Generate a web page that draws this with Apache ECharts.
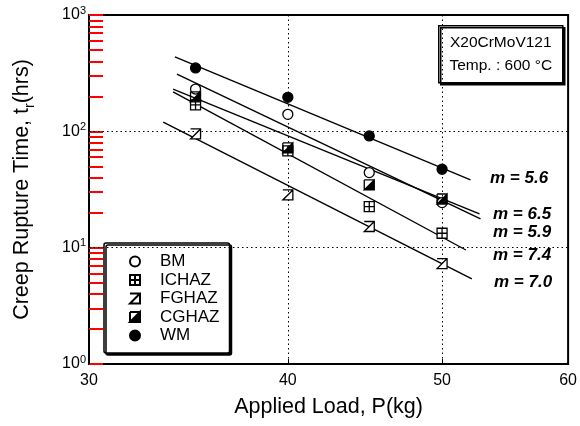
<!DOCTYPE html>
<html>
<head>
<meta charset="utf-8">
<script src="https://cdn.jsdelivr.net/npm/echarts@6/dist/echarts.min.js"></script>
<style>
  html, body { margin: 0; padding: 0; background: #fff; }
  #creep-rupture { width: 580px; height: 426px; }
</style>
</head>
<body>
<div id="creep-rupture"></div>
<script>
// applied load (kg) for every measured point
const loads = [35, 40, 45, 50]

// rupture time (hrs) per zone
const bmTimes = [231, 140, 44.2, 24.4]
const ichazTimes = [169, 68, 22.5, 13.3]
const fghazTimes = [95, 28.4, 15.2, 7.3]
const cghazTimes = [198, 72, 34.6, 26.2]
const wmTimes = [351, 196, 91.3, 47.2]

// fitted lines, two end points each [load, time]
const wmFit = [[33.97, 436], [52.1, 38.2]]
const bmFit = [[34.07, 311], [52.86, 17.7]]
const cghazFit = [[33.88, 231], [52.78, 19.5]]
const ichazFit = [[33.88, 218], [51.75, 9.55]]
const fghazFit = [[33.4, 120], [52.2, 5.4]]

const slopeLabels = ['m = 5.6', 'm = 6.5', 'm = 5.9', 'm = 7.4', 'm = 7.0']
const xTicks = [30, 40, 50, 60]
const yDecades = [1, 10, 100, 1000]
const yGridLines = [10, 100]
const yAllTicks = [1, 2, 3, 4, 5, 6, 7, 8, 9, 10, 20, 30, 40, 50, 60, 70, 80, 90,
  100, 200, 300, 400, 500, 600, 700, 800, 900, 1000]

const FONT = 'Liberation Sans, Arial, sans-serif'
const DOTTED = { color: '#000', type: [1.5, 3], width: 1 }

const toPoints = (times) => loads.map((p, i) => [p, times[i]])

const scatter = (name, times, symbol, fill) => ({
  name: name,
  type: 'scatter',
  z: 5,
  symbol: symbol,
  symbolSize: 10,
  itemStyle: { color: fill, borderColor: '#000', borderWidth: 1.3, opacity: 1 },
  data: toPoints(times)
})

const fitLine = (name, pts) => ({
  name: name,
  type: 'line',
  z: 3,
  silent: true,
  symbol: 'none',
  lineStyle: { color: '#000', width: 1.4 },
  data: pts
})

const chart = echarts.init(document.getElementById('creep-rupture'), null, { renderer: 'canvas' })

const slopeY = [178, 214, 232, 255, 282]
const slopeX = [490, 493, 493, 493, 494]

// horizontal dotted grid at 10 and 100 hrs
const wmSeries = fitLine('WM fit', wmFit)
wmSeries.markLine = {
  silent: true,
  symbol: 'none',
  label: { show: false },
  lineStyle: DOTTED,
  data: yGridLines.map((v) => ({ yAxis: v }))
}

chart.setOption({
  animation: false,
  backgroundColor: '#fff',
  textStyle: { fontFamily: FONT, color: '#000' },
  grid: {
    left: 89, right: 3, top: 15, bottom: 62,
    show: true, borderColor: '#000', borderWidth: 2
  },
  xAxis: {
    type: 'log',
    min: 30,
    max: 60,
    name: 'Applied Load, P(kg)',
    nameLocation: 'middle',
    nameGap: 32,
    nameTextStyle: { fontSize: 21.5, color: '#000', fontFamily: FONT },
    axisLine: { lineStyle: { color: '#000', width: 2 } },
    axisTick: { inside: true, length: 5, customValues: xTicks, lineStyle: { color: '#000' } },
    axisLabel: { customValues: xTicks, fontSize: 16, color: '#000', margin: 9, fontFamily: FONT },
    splitLine: { show: true, lineStyle: DOTTED }
  },
  yAxis: {
    type: 'log',
    min: 1,
    max: 1000,
    name: '{a|Creep Rupture Time, t}{r|r}{a|(hrs)}',
    nameLocation: 'middle',
    nameGap: 52,
    nameTextStyle: {
      rich: {
        a: { fontSize: 21.5, fontFamily: FONT, color: '#000', lineHeight: 30, verticalAlign: 'middle' },
        r: { fontSize: 14, fontFamily: FONT, color: '#000', lineHeight: 30, verticalAlign: 'bottom' }
      }
    },
    axisLine: { show: true, lineStyle: { color: '#000', width: 2 } },
    axisTick: { show: true, inside: true, length: 14, customValues: yAllTicks, lineStyle: { color: 'red', width: 2 } },
    axisLabel: {
      margin: 3,
      customValues: yDecades,
      formatter: (v) => '{b|10}{s|' + Math.round(Math.log10(v)) + '}',
      rich: {
        b: { fontSize: 16, fontFamily: FONT, color: '#000', lineHeight: 20 },
        s: { fontSize: 11, fontFamily: FONT, color: '#000', lineHeight: 20, verticalAlign: 'top' }
      }
    },
    splitLine: { show: false }
  },
  legend: {
    data: ['BM', 'ICHAZ', 'FGHAZ', 'CGHAZ', 'WM'],
    orient: 'vertical',
    left: 104,
    top: 243,
    itemWidth: 40,
    itemHeight: 10,
    itemGap: 1.5,
    padding: [10, 10, 9, 25],
    selectedMode: false,
    backgroundColor: '#fff',
    borderColor: '#000',
    borderWidth: 1.5,
    borderRadius: 2,
    shadowColor: '#000',
    shadowBlur: 0,
    shadowOffsetX: 2,
    shadowOffsetY: 2,
    textStyle: { fontSize: 17, lineHeight: 17, fontFamily: FONT, color: '#000' }
  },
  graphic: [
    {
      type: 'group',
      left: 438,
      top: 25,
      children: [
        {
          type: 'rect',
          shape: { x: 0, y: 0, width: 124, height: 57 },
          style: { fill: '#fff', stroke: '#000', lineWidth: 1.5, shadowColor: '#000', shadowBlur: 0, shadowOffsetX: 2, shadowOffsetY: 2 }
        },
        {
          type: 'text',
          x: 62, y: 17,
          style: { text: 'X20CrMoV121', font: '15.5px ' + FONT, fill: '#000', align: 'center', verticalAlign: 'middle' }
        },
        {
          type: 'text',
          x: 62, y: 40,
          style: { text: 'Temp. : 600 °C', font: '15.5px ' + FONT, fill: '#000', align: 'center', verticalAlign: 'middle' }
        }
      ]
    },
    ...slopeLabels.map((t, i) => ({
      type: 'text',
      x: slopeX[i],
      y: slopeY[i],
      z: 10,
      style: { text: t, font: 'italic bold 17px ' + FONT, fill: '#000', align: 'left', verticalAlign: 'middle' }
    }))
  ],
  series: [
    wmSeries,
    fitLine('BM fit', bmFit),
    fitLine('CGHAZ fit', cghazFit),
    fitLine('ICHAZ fit', ichazFit),
    fitLine('FGHAZ fit', fghazFit),
    scatter('BM', bmTimes, 'circle', '#fff'),
    scatter('ICHAZ', ichazTimes, 'path://M0,0H10V10H0Z M5,0V10 M0,5H10', '#fff'),
    scatter('FGHAZ', fghazTimes, 'path://M0,0H10V10H0L10,0', '#fff'),
    scatter('CGHAZ', cghazTimes, 'path://M10,0L10,10L0,10Z M0,0H10 M0,0V10', '#000'),
    scatter('WM', wmTimes, 'circle', '#000')
  ]
})
</script>
</body>
</html>
